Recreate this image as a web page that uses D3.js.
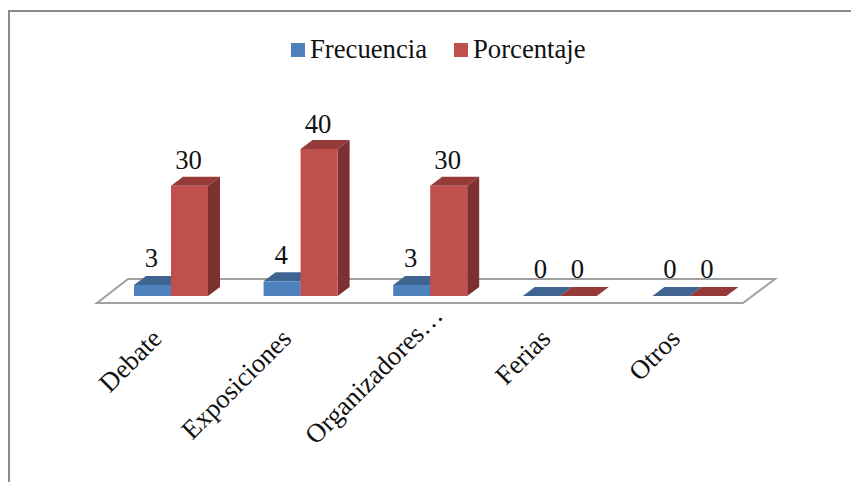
<!DOCTYPE html>
<html>
<head>
<meta charset="utf-8">
<script src="https://cdn.jsdelivr.net/npm/d3@7"></script>
<style>
  html, body { margin: 0; padding: 0; background: #fff; }
  svg { display: block; }
  text { font-family: "Liberation Serif", serif; fill: #111; }
</style>
</head>
<body>
<svg id="chart" width="851" height="482"></svg>
<script>
const categories = ['Debate', 'Exposiciones', 'Organizadores…', 'Ferias', 'Otros'];
const seriesNames = ['Frecuencia', 'Porcentaje'];
const frecuencia = [3, 4, 3, 0, 0];
const porcentaje = [30, 40, 30, 0, 0];

const colors = {
  Frecuencia: { front: '#4f81bd', top: '#3f648f', side: '#34547a' },
  Porcentaje: { front: '#c0504d', top: '#943b3a', side: '#7c302f' }
};

const svg = d3.select('#chart');

// SETUP
const baseY = 296,
  depthX = 12,
  depthY = -9,
  fontSize = '26.7px';

const x = d3.scaleBand()
  .domain(categories)
  .range([134, 726.4])
  .paddingInner(0.429)
  .paddingOuter(0);
const xSeries = d3.scaleBand().domain(seriesNames).range([0, x.bandwidth()]);
const y = d3.scaleLinear().domain([0, 40]).range([baseY, 149]);
// labels sit on a slightly flatter line than the bars
const yLabel = d3.scaleLinear().domain([0, 40]).range([278, 133]);

// OUTER FRAME (no right or bottom edge in the source)
svg.append('path')
  .attr('d', d3.line()([[9, 482], [9, 11], [851, 11]]))
  .attr('fill', 'none')
  .attr('stroke', '#8c8c8c')
  .attr('stroke-width', 2);

// FLOOR
svg.append('path')
  .attr('d', d3.line()([[97, 303], [743, 303], [775, 279], [128, 279]]) + 'Z')
  .attr('fill', '#fff')
  .attr('stroke', '#a0a0a0')
  .attr('stroke-width', 2);

// BARS
const rows = categories.flatMap((c, i) => [
  { cat: c, name: 'Frecuencia', value: frecuencia[i] },
  { cat: c, name: 'Porcentaje', value: porcentaje[i] }
]);

const bar = svg.selectAll('.bar').data(rows).enter().append('g').attr('class', 'bar');

function bx(d) { return x(d.cat) + xSeries(d.name); }

bar.append('path')
  .attr('d', d => {
    const l = bx(d), r = l + xSeries.bandwidth(), t = y(d.value);
    return d3.line()([[l, t], [r, t], [r + depthX, t + depthY], [l + depthX, t + depthY]]) + 'Z';
  })
  .attr('fill', d => colors[d.name].top);

bar.append('path')
  .attr('d', d => {
    const r = bx(d) + xSeries.bandwidth(), t = y(d.value);
    return d3.line()([[r, t], [r + depthX, t + depthY], [r + depthX, baseY + depthY], [r, baseY]]) + 'Z';
  })
  .attr('fill', d => colors[d.name].side);

bar.append('rect')
  .attr('x', bx)
  .attr('y', d => y(d.value))
  .attr('width', xSeries.bandwidth())
  .attr('height', d => baseY - y(d.value))
  .attr('fill', d => colors[d.name].front);

// VALUE LABELS
svg.selectAll('.value').data(rows).enter().append('text')
  .attr('class', 'value')
  .attr('x', d => bx(d) + xSeries.bandwidth() / 2 - 1)
  .attr('y', d => yLabel(d.value))
  .attr('text-anchor', 'middle')
  .style('font-size', fontSize)
  .text(d => d.value);

// CATEGORY LABELS
// the truncated label wraps differently in the source, so it sits higher
svg.selectAll('.cat').data(categories).enter().append('text')
  .attr('class', 'cat')
  .attr('text-anchor', 'end')
  .attr('transform', d => {
    const cut = d.endsWith('…');
    const tx = x(d) + x.bandwidth() / 2 - 21 + (cut ? 22 : 0);
    const ty = cut ? 304 : 327;
    return 'translate(' + tx + ',' + ty + ') rotate(-45)';
  })
  .attr('dy', '0.7em')
  .style('font-size', fontSize)
  .text(d => d);

// LEGEND
const legendX = [291, 454];
const legend = svg.selectAll('.legend').data(seriesNames).enter().append('g')
  .attr('class', 'legend')
  .attr('transform', (d, i) => 'translate(' + legendX[i] + ',43)');
legend.append('rect').attr('width', 14).attr('height', 14).attr('fill', d => colors[d].front);
legend.append('text').attr('x', 19).attr('y', 15).style('font-size', fontSize).text(d => d);
</script>
</body>
</html>
